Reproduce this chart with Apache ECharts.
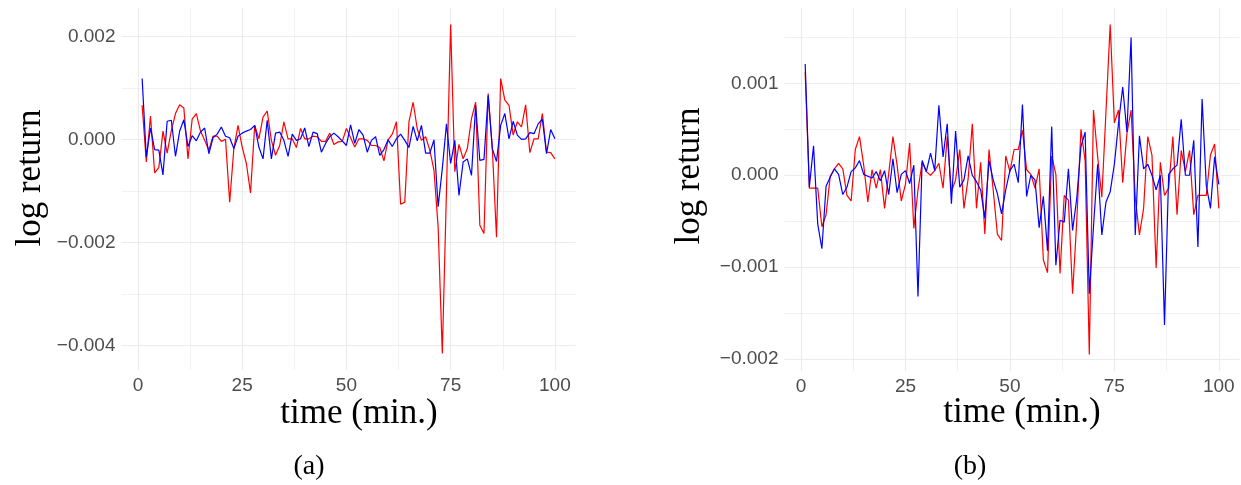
<!DOCTYPE html>
<html>
<head>
<meta charset="utf-8">
<script src="https://cdn.jsdelivr.net/npm/echarts@6/dist/echarts.min.js"></script>
<style>
  html, body { margin: 0; padding: 0; background: #ffffff; }
  #chart { width: 1241px; height: 485px; }
</style>
</head>
<body>
<div id="chart"></div>
<script>
// ---------- data (time in minutes: 1..100) ----------
const times = Array.from({length: 100}, (_, i) => i + 1);

const panelA_red = [
  0.00066,-0.00044,0.00045,-0.00065,-0.00055,0.00016,-0.00027,0.00017,0.00050,0.00067,
  0.00061,-0.00038,0.00039,0.00050,0.00016,-0.00002,-0.00021,0.00006,0.00006,-0.00004,
  0.00000,-0.00122,-0.00018,0.00027,-0.00015,-0.00047,-0.00104,0.00027,0.00001,0.00043,
  0.00055,-0.00002,-0.00031,-0.00012,0.00034,0.00001,0.00001,-0.00016,0.00021,0.00001,
  0.00001,0.00006,0.00005,-0.00004,-0.00004,0.00012,-0.00010,-0.00005,-0.00004,0.00021,
  0.00003,-0.00015,0.00001,0.00001,-0.00002,-0.00012,-0.00012,-0.00016,-0.00042,-0.00001,
  0.00010,0.00034,-0.00126,-0.00122,0.00034,0.00072,0.00020,-0.00002,0.00005,-0.00021,
  -0.00060,-0.00170,-0.00416,-0.00100,0.00223,-0.00063,-0.00010,-0.00038,-0.00018,0.00040,
  0.00072,-0.00167,-0.00183,0.00089,-0.00018,-0.00190,0.00118,0.00076,0.00066,0.00008,
  0.00034,0.00024,0.00067,-0.00026,0.00001,0.00001,0.00050,-0.00025,-0.00026,-0.00038
];
const panelA_blue = [
  0.00118,-0.00034,0.00022,-0.00020,-0.00021,-0.00069,0.00035,0.00037,-0.00033,0.00016,
  0.00038,-0.00014,0.00007,-0.00003,0.00014,0.00022,-0.00028,0.00003,0.00010,0.00024,
  0.00006,0.00003,-0.00018,0.00006,0.00012,0.00016,0.00019,0.00027,-0.00015,-0.00038,
  0.00037,-0.00038,0.00012,0.00014,-0.00002,-0.00033,0.00010,-0.00002,0.00001,0.00022,
  -0.00014,0.00014,0.00011,-0.00025,-0.00008,0.00005,0.00012,0.00005,-0.00003,-0.00012,
  0.00028,-0.00008,0.00019,0.00008,-0.00025,-0.00002,0.00005,-0.00031,-0.00020,-0.00001,
  -0.00014,0.00001,0.00010,-0.00002,-0.00016,0.00025,-0.00003,0.00027,-0.00027,-0.00027,
  -0.00001,-0.00131,-0.00057,0.00030,-0.00047,-0.00002,-0.00109,-0.00044,-0.00038,-0.00070,
  0.00066,-0.00041,-0.00039,0.00085,-0.00018,-0.00043,0.00027,0.00050,0.00001,0.00035,
  0.00008,0.00000,0.00001,0.00013,0.00011,0.00030,0.00039,-0.00028,0.00019,0.00001
];
const panelB_red = [
  0.00112,-0.00014,-0.00014,-0.00014,-0.00056,-0.00043,-0.00001,0.00007,0.00013,0.00007,
  -0.00022,-0.00028,0.00028,0.00042,0.00011,-0.00029,0.00006,-0.00014,0.00006,-0.00036,
  0.00002,0.00042,0.00011,-0.00028,-0.00010,0.00035,-0.00058,-0.00016,0.00014,0.00004,
  0.00000,0.00005,0.00013,-0.00014,0.00042,-0.00018,-0.00005,0.00028,-0.00036,-0.00004,
  0.00056,-0.00036,0.00014,-0.00064,0.00028,-0.00016,-0.00064,-0.00071,0.00021,0.00004,
  0.00028,0.00028,0.00049,0.00006,0.00001,-0.00014,0.00007,-0.00092,-0.00106,0.00021,
  0.00001,-0.00107,-0.00022,-0.00027,-0.00129,-0.00050,0.00050,0.00016,-0.00195,0.00071,
  0.00020,-0.00024,0.00070,0.00164,0.00057,0.00071,-0.00008,0.00045,0.00071,-0.00024,
  -0.00065,-0.00036,0.00042,0.00022,-0.00101,0.00014,-0.00022,-0.00014,0.00042,-0.00043,
  0.00027,0.00004,0.00027,-0.00043,-0.00022,-0.00022,-0.00022,0.00022,0.00034,-0.00036
];
const panelB_blue = [
  0.00121,-0.00013,0.00032,-0.00053,-0.00080,-0.00012,-0.00002,0.00007,0.00001,-0.00021,
  -0.00013,0.00004,0.00008,0.00016,0.00001,-0.00001,-0.00003,0.00004,-0.00006,0.00005,
  -0.00021,0.00018,-0.00019,0.00001,0.00005,-0.00009,0.00011,-0.00132,0.00016,0.00004,
  0.00024,0.00005,0.00076,0.00020,0.00056,-0.00031,0.00048,-0.00013,-0.00005,0.00021,
  0.00000,-0.00007,-0.00016,-0.00047,0.00016,-0.00005,-0.00020,-0.00042,-0.00016,0.00005,
  0.00012,-0.00008,0.00077,-0.00023,0.00000,-0.00005,-0.00057,-0.00023,-0.00082,0.00053,
  -0.00098,-0.00049,-0.00051,0.00007,-0.00060,-0.00025,0.00031,0.00047,-0.00129,-0.00056,
  0.00012,-0.00065,-0.00029,-0.00018,0.00012,0.00057,0.00096,0.00047,0.00150,-0.00065,
  0.00043,0.00007,0.00012,0.00000,-0.00016,0.00000,-0.00163,0.00001,0.00007,0.00011,
  0.00061,0.00000,0.00000,0.00038,-0.00078,0.00083,-0.00011,-0.00036,0.00020,-0.00010
];

// tick labels / grid positions
const xTicksMajor = [0, 25, 50, 75, 100];
const xTicksMinor = [12.5, 37.5, 62.5, 87.5];
const yTicksMajorA = [-0.004, -0.002, 0, 0.002];
const yTicksMinorA = [-0.003, -0.001, 0.001];
const yTicksMajorB = [-0.002, -0.001, 0, 0.001];
const yTicksMinorB = [-0.0015, -0.0005, 0.0005, 0.0015];
const xTitle = 'time (min.)';
const yTitle = 'log return';
const captions = ['(a)', '(b)'];

// ---------- chart ----------
const GRID_COLOR = '#ebebeb';
const TICK_COLOR = '#4d4d4d';
const SANS = 'Liberation Sans, Arial, sans-serif';
const SERIF = 'Liberation Serif, Times New Roman, serif';
const fmtY = v => (Math.abs(v) < 1e-12 ? 0 : v).toFixed(3).replace('-', '\u2212');

function pairs(vals) { return vals.map((v, i) => [times[i], v]); }

const grids = [
  { left: 121.5, top: 8, width: 454, height: 362 },
  { left: 784.5, top: 8, width: 455, height: 363 }
];
const yRanges = [
  { min: -0.00448, max: 0.00255, major: yTicksMajorA, minor: yTicksMinorA },
  { min: -0.00213, max: 0.00182, major: yTicksMajorB, minor: yTicksMinorB }
];

const xAxes = [], yAxes = [];
[0, 1].forEach(g => {
  xAxes.push({
    type: 'value', gridIndex: g, min: -3.95, max: 104.95,
    axisLine: { show: false },
    axisTick: { show: false, customValues: xTicksMajor },
    axisLabel: { customValues: xTicksMajor, color: TICK_COLOR, fontSize: 19, fontFamily: SANS, margin: 6 },
    splitLine: { show: true, lineStyle: { color: GRID_COLOR, width: 1.1 } }
  });
  xAxes.push({
    type: 'value', gridIndex: g, min: -3.95, max: 104.95,
    axisLine: { show: false },
    axisTick: { show: false, customValues: xTicksMinor },
    axisLabel: { show: false, customValues: xTicksMinor },
    splitLine: { show: true, lineStyle: { color: GRID_COLOR, width: 0.7 } }
  });
  const r = yRanges[g];
  yAxes.push({
    type: 'value', gridIndex: g, min: r.min, max: r.max,
    axisLine: { show: false },
    axisTick: { show: false, customValues: r.major },
    axisLabel: { customValues: r.major, formatter: fmtY, color: TICK_COLOR, fontSize: 19, fontFamily: SANS, margin: 6 },
    splitLine: { show: true, lineStyle: { color: GRID_COLOR, width: 1.1 } }
  });
  yAxes.push({
    type: 'value', gridIndex: g, min: r.min, max: r.max,
    axisLine: { show: false },
    axisTick: { show: false, customValues: r.minor },
    axisLabel: { show: false, customValues: r.minor },
    splitLine: { show: true, lineStyle: { color: GRID_COLOR, width: 0.7 } }
  });
});

function lineSeries(vals, color, g) {
  return {
    type: 'line', data: pairs(vals),
    xAxisIndex: g * 2, yAxisIndex: g * 2,
    showSymbol: false, symbol: 'none',
    lineStyle: { color: color, width: 1.2 },
    itemStyle: { color: color },
    silent: true, z: 3
  };
}

const series = [
  lineSeries(panelA_red, '#ff0000', 0),
  lineSeries(panelA_blue, '#0000ff', 0),
  lineSeries(panelB_red, '#ff0000', 1),
  lineSeries(panelB_blue, '#0000ff', 1)
];

function txt(text, x, y, size, rot) {
  return {
    type: 'text', x: x, y: y, rotation: rot || 0,
    style: { text: text, fill: '#000', font: size + 'px ' + SERIF, align: 'center', verticalAlign: 'middle' }
  };
}

const option = {
  animation: false,
  backgroundColor: '#ffffff',
  grid: grids,
  xAxis: xAxes,
  yAxis: yAxes,
  series: series,
  graphic: [
    txt(yTitle, 31, 178, 35, Math.PI / 2),
    txt(yTitle, 690, 176, 35, Math.PI / 2),
    txt(xTitle, 359, 414, 35),
    txt(xTitle, 1022, 413, 35),
    txt(captions[0], 309, 467, 28),
    txt(captions[1], 970, 467, 28)
  ]
};

const chart = echarts.init(document.getElementById('chart'), null, { renderer: 'canvas' });
chart.setOption(option);
</script>
</body>
</html>
